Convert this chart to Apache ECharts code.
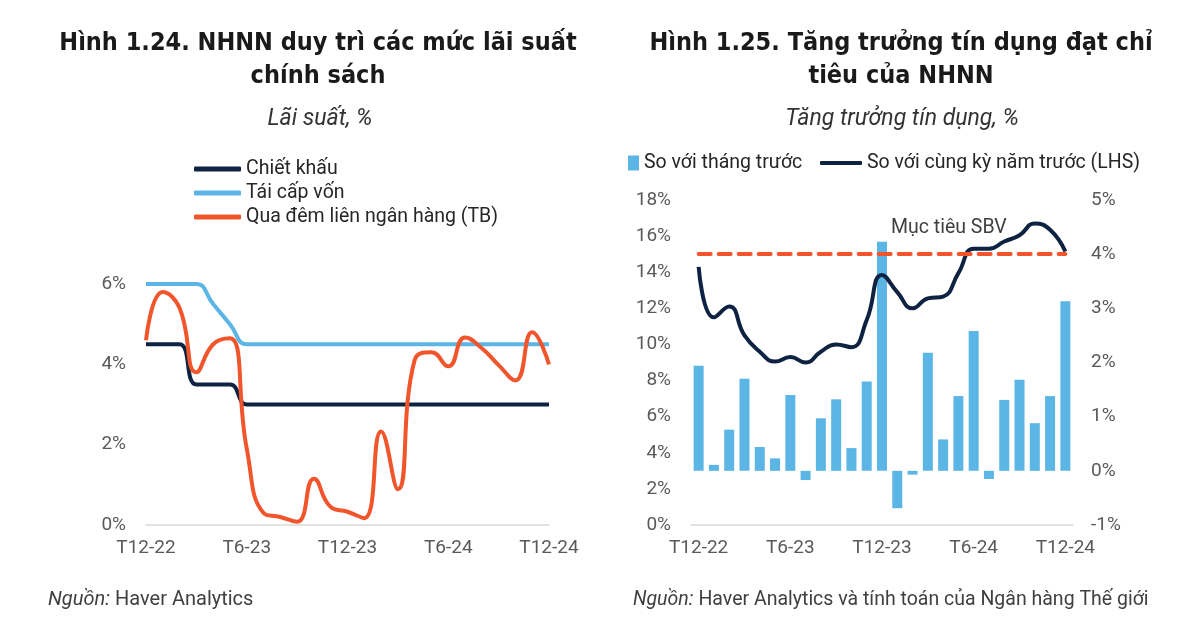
<!DOCTYPE html>
<html>
<head>
<meta charset="utf-8">
<script src="https://cdn.jsdelivr.net/npm/echarts@6/dist/echarts.min.js"></script>
<style>
html,body{margin:0;padding:0;background:#fff;}
#c{width:1200px;height:619px;}
</style>
</head>
<body>
<div id="c"></div>
<script>
// ---- data ----
const months = ['T12-22','T1-23','T2-23','T3-23','T4-23','T5-23','T6-23','T7-23','T8-23','T9-23','T10-23','T11-23','T12-23',
                'T1-24','T2-24','T3-24','T4-24','T5-24','T6-24','T7-24','T8-24','T9-24','T10-24','T11-24','T12-24'];
const chietKhau = [4.5,4.5,4.5,3.5,3.5,3.5,3.0,3.0,3.0,3.0,3.0,3.0,3.0,3.0,3.0,3.0,3.0,3.0,3.0,3.0,3.0,3.0,3.0,3.0,3.0];
const taiCapVon = [6.0,6.0,6.0,6.0,5.5,5.0,4.5,4.5,4.5,4.5,4.5,4.5,4.5,4.5,4.5,4.5,4.5,4.5,4.5,4.5,4.5,4.5,4.5,4.5,4.5];
const quaDem = [4.6,5.8,5.4,3.8,4.5,4.65,1.9,0.3,0.2,0.08,1.15,0.45,0.33,0.17,2.33,0.89,4.11,4.3,3.95,4.67,4.4,3.98,3.6,4.8,4.0];
const soThangTruoc = [1.94,0.11,0.76,1.70,0.44,0.23,1.40,-0.17,0.97,1.32,0.42,1.65,4.23,-0.69,-0.07,2.18,0.58,1.38,2.58,-0.15,1.31,1.68,0.88,1.38,3.13];
const soCungKy = [14.3,11.5,12.1,10.5,9.6,9.05,9.3,9.0,9.6,10.0,9.85,11.35,13.85,12.9,12.0,12.55,12.65,13.95,15.3,15.3,15.7,16.05,16.7,16.35,15.15];
const mucTieuSBV = 15;
const leftTicks = {min:0, max:6, interval:2};
const rightLTicks = {min:0, max:18, interval:2};
const rightRTicks = {min:-1, max:5, interval:1};

const C_DARK = '#0e2241', C_LIGHT = '#5bb6e6', C_ORANGE = '#f1552b', C_BAR = '#5cb6e5';
const FONT = 'Roboto';
const TFONT = '"DejaVu Sans Condensed", Roboto, sans-serif';
const axisLab = {color:'#595959', fontSize:19, fontFamily:FONT};
const SM = 0.5;

const chart = echarts.init(document.getElementById('c'), null, {renderer:'canvas'});
chart.setOption({
  animation:false,
  backgroundColor:'#fff',
  title:[
    {text:'Hình 1.24. NHNN duy trì các mức lãi suất\nchính sách', left:318, top:27, textAlign:'center', padding:0,
     textStyle:{fontFamily:TFONT, fontWeight:'bold', fontSize:25, lineHeight:33, color:'#1a1a1a'}},
    {text:'Hình 1.25. Tăng trưởng tín dụng đạt chỉ\ntiêu của NHNN', left:901, top:27, textAlign:'center', padding:0,
     textStyle:{fontFamily:TFONT, fontWeight:'bold', fontSize:25, lineHeight:33, color:'#1a1a1a'}},
    {text:'Lãi suất, %', left:320, top:105, textAlign:'center', padding:0,
     textStyle:{fontFamily:FONT, fontStyle:'italic', fontWeight:'normal', fontSize:23, lineHeight:28, color:'#333333'}},
    {text:'Tăng trưởng tín dụng, %', left:902, top:105, textAlign:'center', padding:0,
     textStyle:{fontFamily:FONT, fontStyle:'italic', fontWeight:'normal', fontSize:23, lineHeight:28, color:'#333333'}},
    {text:'{i|Nguồn:} {n|Haver Analytics}', left:48, top:590, padding:0,
     textStyle:{fontWeight:'normal', rich:{i:{fontFamily:FONT, fontStyle:'italic', fontWeight:'normal', fontSize:20, color:'#404040'}, n:{fontFamily:FONT, fontWeight:'normal', fontSize:20, color:'#404040'}}}},
    {text:'{i|Nguồn:} {n|Haver Analytics và tính toán của Ngân hàng Thế giới}', left:633, top:590, padding:0,
     textStyle:{fontWeight:'normal', rich:{i:{fontFamily:FONT, fontStyle:'italic', fontWeight:'normal', fontSize:19.5, color:'#404040'}, n:{fontFamily:FONT, fontWeight:'normal', fontSize:19.5, color:'#404040'}}}}
  ],
  legend:[
    {orient:'vertical', left:194, top:159, padding:0, itemWidth:47, itemHeight:5, itemGap:4, icon:'roundRect',
     data:['Chiết khấu','Tái cấp vốn','Qua đêm liên ngân hàng (TB)'],
     textStyle:{fontFamily:FONT, fontSize:19.5, color:'#262626', lineHeight:20, padding:[0,0,0,0]}},
    {left:628, top:153, padding:0, itemWidth:11, itemHeight:15, icon:'rect', data:['So với tháng trước'],
     textStyle:{fontFamily:FONT, fontSize:19.5, color:'#262626'}},
    {left:820, top:153, padding:0, itemWidth:42, itemHeight:4, icon:'roundRect', data:['So với cùng kỳ năm trước (LHS)'],
     textStyle:{fontFamily:FONT, fontSize:19.5, color:'#262626'}}
  ],
  grid:[
    {left:146, right:651, top:284, bottom:94},
    {left:691, right:127, top:200, bottom:94}
  ],
  xAxis:[
    {type:'category', gridIndex:0, data:months, boundaryGap:false,
     axisLine:{onZero:false, lineStyle:{color:'#d9d9d9', width:1.5}}, axisTick:{show:false},
     axisLabel:Object.assign({interval:5, margin:14}, axisLab)},
    {type:'category', gridIndex:1, data:months, boundaryGap:true,
     axisLine:{onZero:false, lineStyle:{color:'#d9d9d9', width:1.5}}, axisTick:{show:false},
     axisLabel:Object.assign({interval:5, margin:14}, axisLab)}
  ],
  yAxis:[
    {type:'value', gridIndex:0, min:leftTicks.min, max:leftTicks.max, interval:leftTicks.interval,
     splitLine:{show:false}, axisLine:{show:false}, axisTick:{show:false},
     axisLabel:Object.assign({formatter:'{value}%', margin:20}, axisLab)},
    {type:'value', gridIndex:1, position:'left', min:rightLTicks.min, max:rightLTicks.max, interval:rightLTicks.interval,
     splitLine:{show:false}, axisLine:{show:false}, axisTick:{show:false},
     axisLabel:Object.assign({formatter:'{value}%', margin:20}, axisLab)},
    {type:'value', gridIndex:1, position:'right', min:rightRTicks.min, max:rightRTicks.max, interval:rightRTicks.interval,
     splitLine:{show:false}, axisLine:{show:false}, axisTick:{show:false},
     axisLabel:Object.assign({formatter:'{value}%', margin:18}, axisLab)}
  ],
  series:[
    {name:'Chiết khấu', type:'line', xAxisIndex:0, yAxisIndex:0, data:chietKhau, smooth:SM, showSymbol:false, clip:false,
     color:C_DARK, lineStyle:{width:4, color:C_DARK}, z:3},
    {name:'Tái cấp vốn', type:'line', xAxisIndex:0, yAxisIndex:0, data:taiCapVon, smooth:SM, showSymbol:false, clip:false,
     color:C_LIGHT, lineStyle:{width:4, color:C_LIGHT}, z:2},
    {name:'Qua đêm liên ngân hàng (TB)', type:'line', xAxisIndex:0, yAxisIndex:0, data:quaDem, smooth:SM, showSymbol:false, clip:false,
     color:C_ORANGE, lineStyle:{width:4, color:C_ORANGE}, z:4},
    {name:'So với tháng trước', type:'bar', xAxisIndex:1, yAxisIndex:2, data:soThangTruoc, barWidth:10,
     color:C_BAR, itemStyle:{color:C_BAR}, z:2},
    {name:'So với cùng kỳ năm trước (LHS)', type:'line', xAxisIndex:1, yAxisIndex:1, data:soCungKy, smooth:SM, showSymbol:false, clip:false,
     color:C_DARK, lineStyle:{width:4, color:C_DARK}, z:4,
     markLine:{silent:true, symbol:['none','none'], label:{show:false},
       lineStyle:{type:[12,8], cap:'round', width:4, color:C_ORANGE},
       data:[[{coord:[months[0], mucTieuSBV]}, {coord:[months[months.length-1], mucTieuSBV]}]]}}
  ],
  graphic:[
    {type:'text', left:891, top:218, style:{text:'Mục tiêu SBV', fontFamily:FONT, fontSize:19.5, fill:'#404040'}}
  ]
});
</script>
</body>
</html>
